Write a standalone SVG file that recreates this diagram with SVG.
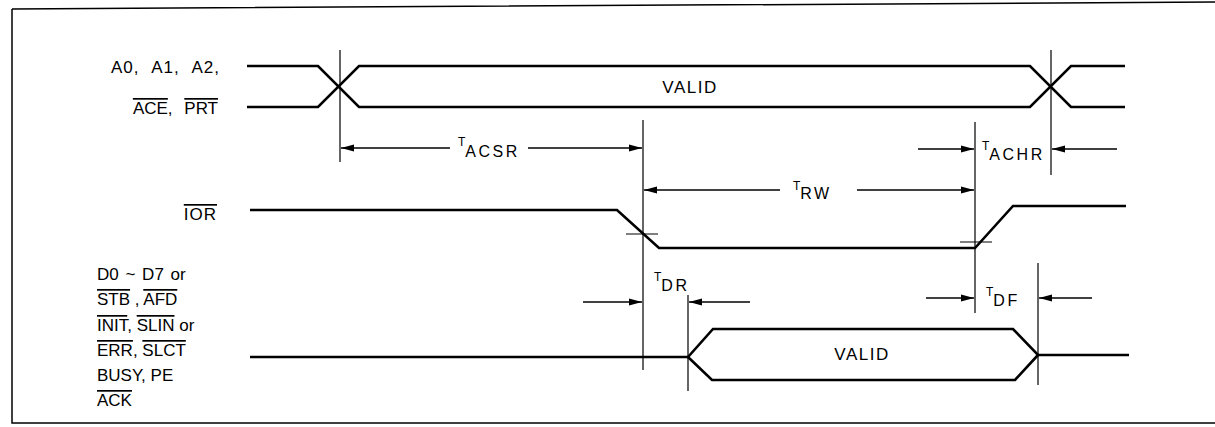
<svg xmlns="http://www.w3.org/2000/svg" width="1215" height="427" viewBox="0 0 1215 427">
<style>
text{font-family:"Liberation Sans",Arial,sans-serif;fill:#000}
.lbl{font-size:17px}
.sig{fill:none;stroke:#000;stroke-width:2.6;stroke-linejoin:miter}
.thin{fill:none;stroke:#000;stroke-width:1.2}
.dim{fill:none;stroke:#000;stroke-width:1.4;marker-end:url(#ah)}
.t{font-size:12px}
.sub{font-size:16px;letter-spacing:2.5px}
.ov{text-decoration:overline}
</style>
<defs>
<marker id="ah" markerUnits="userSpaceOnUse" markerWidth="14" markerHeight="8" refX="13" refY="4" orient="auto">
<path d="M0,0.5 L13,4 L0,7.5 z" fill="#000"/>
</marker>
</defs>
<g id="frame">
<path d="M12,9 L1215,2 M12,9 L12,423 L1215,423" fill="none" stroke="#000" stroke-width="1.5"/>
</g>
<g id="labels">
<text class="lbl" x="220" y="73" text-anchor="end" word-spacing="7" letter-spacing="1">A0, A1, A2,</text>
<text class="lbl" x="218" y="114" text-anchor="end" word-spacing="7"><tspan class="ov">ACE</tspan>, <tspan class="ov">PRT</tspan></text>
<text class="lbl" x="217" y="220" text-anchor="end" letter-spacing="1"><tspan class="ov">IOR</tspan></text>
<text class="lbl" x="97" y="280" word-spacing="2">D0 ~ D7 or</text>
<text class="lbl" x="97" y="305"><tspan class="ov">STB</tspan> , <tspan class="ov">AFD</tspan></text>
<text class="lbl" x="97" y="331"><tspan class="ov">INIT</tspan>, <tspan class="ov">SLIN</tspan> or</text>
<text class="lbl" x="97" y="356"><tspan class="ov">ERR</tspan>, <tspan class="ov">SLCT</tspan></text>
<text class="lbl" x="97" y="381">BUSY, PE</text>
<text class="lbl" x="97" y="406"><tspan class="ov">ACK</tspan></text>
</g>
<g id="node-address">
<path class="sig" d="M247,66 H318 L359,107 H1030 L1071,66 H1125"/>
<path class="sig" d="M247,107 H318 L359,66 H1030 L1071,107 H1125"/>
<text class="lbl" x="690" y="93" text-anchor="middle" letter-spacing="1.5">VALID</text>
</g>
<g id="node-ior">
<path class="sig" d="M250,210 H617 L659,248 H975 L1013,206 H1126"/>
<path class="thin" d="M626,234 H658 M960,242 H992"/>
</g>
<g id="node-data">
<path class="sig" d="M250,357 H688 L713,329 H1013 L1038,355 H1129"/>
<path class="sig" d="M688,357 L712,380 H1015 L1038,355"/>
<text class="lbl" x="862" y="360" text-anchor="middle" letter-spacing="1.5">VALID</text>
</g>
<g id="connectors">
<path class="thin" d="M340,50 V162 M1051,50 V175 M643,120 V370 M975,122 V313 M688,295 V391 M1038,263 V385"/>
<line class="dim" x1="450" y1="148" x2="341" y2="148"/>
<line class="dim" x1="528" y1="148" x2="642" y2="148"/>
<line class="dim" x1="780" y1="190" x2="644" y2="190"/>
<line class="dim" x1="857" y1="190" x2="974" y2="190"/>
<line class="dim" x1="918" y1="149" x2="974" y2="149"/>
<line class="dim" x1="1117" y1="149" x2="1052" y2="149"/>
<line class="dim" x1="583" y1="302" x2="642" y2="302"/>
<line class="dim" x1="750" y1="302" x2="689" y2="302"/>
<line class="dim" x1="926" y1="298" x2="974" y2="298"/>
<line class="dim" x1="1092" y1="298" x2="1039" y2="298"/>
</g>
<g id="timing-labels">
<text x="458" y="146"><tspan class="t">T</tspan><tspan class="sub" dy="11">ACSR</tspan></text>
<text x="793" y="190"><tspan class="t">T</tspan><tspan class="sub" dy="9">RW</tspan></text>
<text x="982" y="150"><tspan class="t">T</tspan><tspan class="sub" dy="10">ACHR</tspan></text>
<text x="654" y="281"><tspan class="t">T</tspan><tspan class="sub" dy="10">DR</tspan></text>
<text x="986" y="296"><tspan class="t">T</tspan><tspan class="sub" dy="10">DF</tspan></text>
</g>
</svg>
